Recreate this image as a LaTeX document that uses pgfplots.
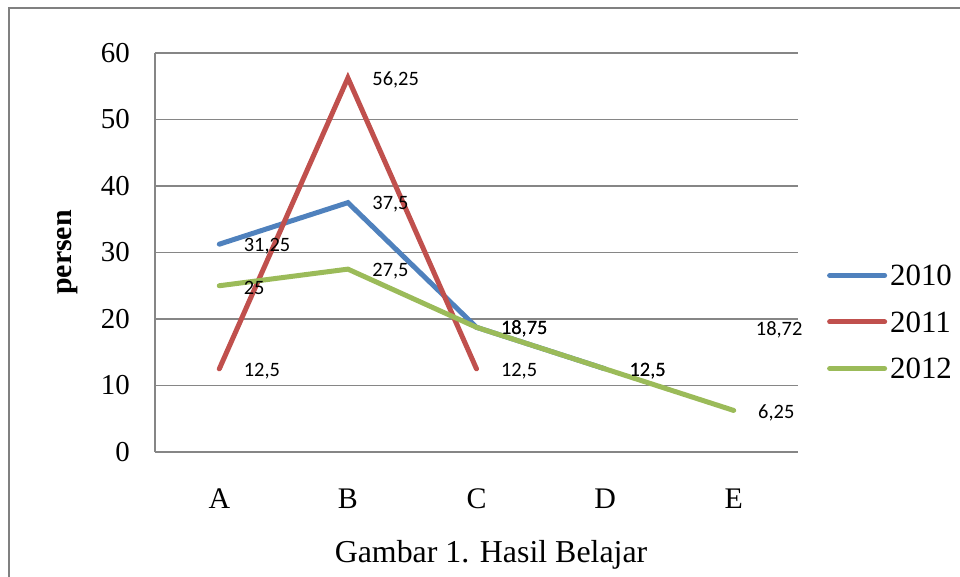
\documentclass[border=0pt]{standalone}
\usepackage{fontspec}
\setmainfont{Liberation Serif}
\newfontfamily\calib{Carlito}
\usepackage{pgfplots}
\pgfplotsset{compat=1.18}
\definecolor{c2010}{RGB}{79,129,189}
\definecolor{c2011}{RGB}{192,80,77}
\definecolor{c2012}{RGB}{155,187,89}
\definecolor{gridgray}{RGB}{134,134,134}
\definecolor{framegray}{RGB}{128,128,128}
\begin{document}
\begin{tikzpicture}
\begin{axis}[
  scale only axis, width=643bp, height=399bp,
  xmin=-0.5, xmax=4.5, ymin=0, ymax=60,
  xtick={0,1,2,3,4}, xticklabels={A,B,C,D,E},
  ytick={0,10,20,30,40,50,60},
  axis lines*=left,
  axis line style={draw=gridgray, line width=1.3bp, -},
  ymajorgrids, grid style={draw=gridgray, line width=1.3bp},
  major tick length=0pt,
  /pgf/number format/assume math mode=true,
  yticklabel style={font=\fontsize{29}{29}\selectfont, inner sep=0pt, anchor=east, xshift=-25bp},
  xticklabel style={font=\fontsize{30}{30}\selectfont, inner sep=0pt, anchor=base, yshift=-56bp},
  ylabel={\textbf{persen}},
  ylabel style={at={(axis description cs:-0.136,0.5)}, anchor=center, font=\fontsize{30}{30}\selectfont},
  xlabel={Gambar 1. Hasil Belajar},
  xlabel style={at={(axis description cs:0.5226,0)}, anchor=base, yshift=-110bp, font=\fontsize{32}{32}\selectfont},
  legend style={draw=none, fill=none, inner sep=0pt, font=\fontsize{31}{31}\selectfont,
    nodes={inner sep=0pt, text depth=0pt}, row sep=26bp, column sep=3bp,
    at={(axis description cs:1.045,0.4687)}, anchor=north west},
  legend cell align=left,
  legend image code/.code={\draw[#1, line cap=round] (0bp,0bp) -- (55bp,0bp);},
  point meta=explicit symbolic,
  nodes near coords,
  every node near coord/.append style={font=\calib\fontsize{20.5}{20.5}\selectfont, anchor=west, xshift=22bp, yshift=-2bp, text=black, inner sep=0pt},
  clip=false,
]
\addplot[c2010, line width=5bp, line cap=round, line join=miter] coordinates {
  (0,31.25) [31,25]
  (1,37.5) [37,5]
  (2,18.75) [18,75]
  (3,12.5) [12,5]
};
\addplot[c2011, line width=5bp, line cap=round, line join=miter] coordinates {
  (0,12.5) [12,5]
  (1,56.25) [56,25]
  (2,12.5) [12,5]
};
\addplot[c2012, line width=5bp, line cap=round, line join=miter] coordinates {
  (0,25) [25]
  (1,27.5) [27,5]
  (2,18.75) [18,75]
  (3,12.5) [12,5]
  (4,6.25) [6,25]
};
\addplot[draw=none, forget plot] coordinates {
  (4,18.72) [18,72]
};
\legend{2010,2011,2012}
\end{axis}
\path[use as bounding box] (-155bp,-125bp) rectangle (805bp,452bp);
\draw[framegray, line width=2bp] (-146bp,-130bp) -- (-146bp,444bp) -- (810bp,444bp);
\end{tikzpicture}
\end{document}
